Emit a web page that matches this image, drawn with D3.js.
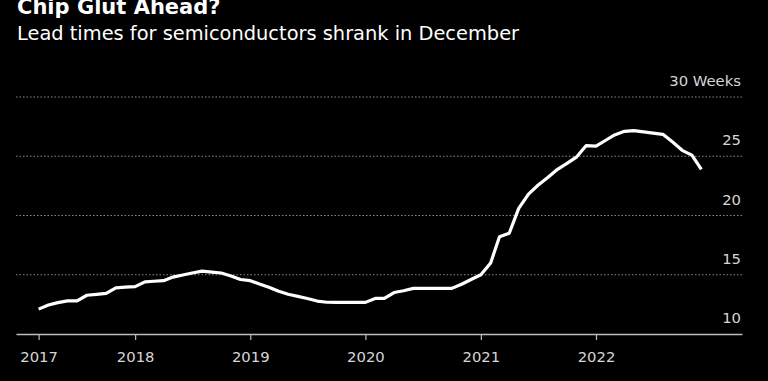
<!DOCTYPE html>
<html>
<head>
<meta charset="utf-8">
<script src="https://cdn.jsdelivr.net/npm/d3@7"></script>
<style>
  html, body { margin: 0; padding: 0; background: #000; }
  svg { display: block; }
  text { font-family: "DejaVu Sans", sans-serif; }
</style>
</head>
<body>
<svg id="chart" width="768" height="381"></svg>
<script>
// ---- Data ----
const title = "Chip Glut Ahead?";
const subtitle = "Lead times for semiconductors shrank in December";
const unitLabel = "Weeks";
const startMonth = "2017-03";
const leadTimes = [
  12.1, 12.45, 12.65, 12.8, 12.8, 13.27, 13.35, 13.43, 13.9, 13.95,      // Mar–Dec 2017
  14.0, 14.4, 14.45, 14.5, 14.8, 14.98, 15.15, 15.3, 15.22, 15.15, 14.9, 14.6, // 2018
  14.5, 14.2, 13.95, 13.6, 13.35, 13.18, 13.0, 12.78, 12.68, 12.67, 12.67, 12.67, // 2019
  12.67, 13.0, 13.0, 13.5, 13.65, 13.85, 13.85, 13.85, 13.85, 13.85, 14.2, 14.6, // 2020
  15.0, 16.0, 18.2, 18.5, 20.6, 21.8, 22.55, 23.2, 23.9, 24.4, 24.95, 25.9, // 2021
  25.85, 26.35, 26.8, 27.1, 27.16, 27.05, 26.95, 26.85, 26.2, 25.5, 25.1, 23.9 // 2022
];
const yTicks = [10, 15, 20, 25, 30];
const yearTicks = [2018, 2019, 2020, 2021, 2022];

(function () {
  const [sy, sm] = startMonth.split("-").map(Number);
  const data = leadTimes.map((v, i) => ({ date: new Date(Date.UTC(sy, sm - 1 + i, 1)), value: v }));

  const svg = d3.select("#chart");
  const pLeft = 16, pRight = 742, pTop = 97, pBottom = 334;

  const x = d3.scaleUtc()
    .domain([new Date(Date.UTC(2017, 0, 1)), new Date(Date.UTC(2022, 0, 1))])
    .range([20, 596]);
  x.domain([x.invert(pLeft), x.invert(pRight)]).range([pLeft, pRight]);

  const y = d3.scaleLinear().domain([10, 30]).range([pBottom, pTop]);

  // Titles
  svg.append("text")
    .attr("x", 17).attr("y", 14)
    .attr("fill", "#fff")
    .attr("font-size", 21).attr("font-weight", "bold")
    .text(title);
  svg.append("text")
    .attr("x", 17).attr("y", 40)
    .attr("fill", "#fff")
    .attr("font-size", 19.4)
    .text(subtitle);

  // Gridlines
  svg.append("g").selectAll("line")
    .data(yTicks.filter(t => t !== 10))
    .join("line")
    .attr("x1", pLeft).attr("x2", pRight)
    .attr("y1", d => y(d)).attr("y2", d => y(d))
    .attr("stroke", "#8a8a8a")
    .attr("stroke-width", 1)
    .attr("stroke-dasharray", "1.5,2");

  // Y labels
  svg.append("g").selectAll("text")
    .data(yTicks)
    .join("text")
    .attr("x", 741)
    .attr("y", d => y(d) - 11)
    .attr("text-anchor", "end")
    .attr("fill", "#d6d6d6")
    .attr("font-size", 14.8)
    .text(d => d === 30 ? `${d} ${unitLabel}` : d);

  // X axis
  const tickDates = [data[0].date].concat(yearTicks.map(yr => new Date(Date.UTC(yr, 0, 1))));
  const xAxis = d3.axisBottom(x)
    .tickValues(tickDates)
    .tickFormat(d3.utcFormat("%Y"))
    .tickSize(6)
    .tickSizeOuter(0)
    .tickPadding(11);
  const gx = svg.append("g")
    .attr("transform", `translate(0,${pBottom})`)
    .call(xAxis);
  gx.select(".domain").attr("stroke", "#bdbdbd").attr("stroke-width", 1.5);
  gx.selectAll(".tick line").attr("stroke", "#bdbdbd").attr("stroke-width", 1.2);
  gx.selectAll(".tick text")
    .attr("fill", "#d6d6d6")
    .attr("font-size", 14.8)
    .attr("font-family", "DejaVu Sans, sans-serif");

  // Line
  const line = d3.line()
    .x(d => x(d.date))
    .y(d => y(d.value));
  svg.append("path")
    .datum(data)
    .attr("d", line)
    .attr("fill", "none")
    .attr("stroke", "#fff")
    .attr("stroke-width", 3.2)
    .attr("stroke-linejoin", "round");
})();
</script>
</body>
</html>
